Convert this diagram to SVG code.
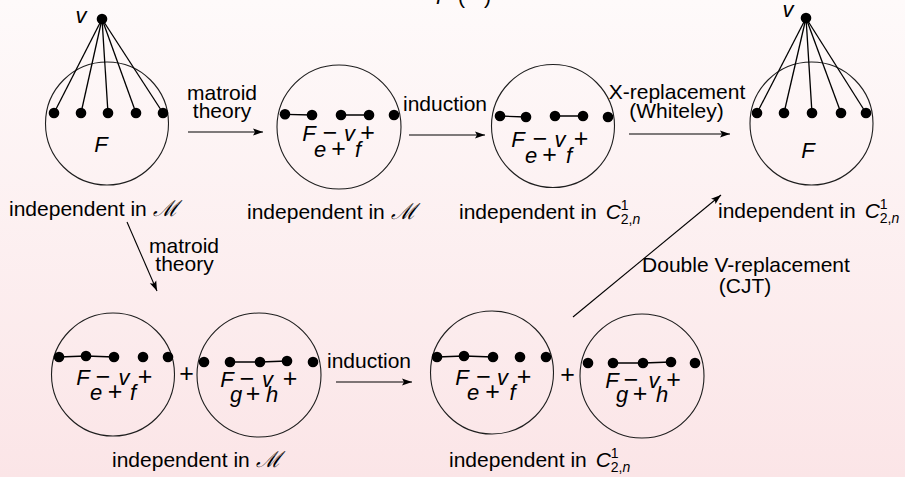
<svg xmlns="http://www.w3.org/2000/svg" width="905" height="477" viewBox="0 0 905 477">
  <defs>
    <linearGradient id="bg" x1="0" y1="0" x2="0" y2="1">
      <stop offset="0" stop-color="#fefafa"/>
      <stop offset="1" stop-color="#fbe5e7"/>
    </linearGradient>
    <marker id="ah" markerUnits="userSpaceOnUse" markerWidth="11" markerHeight="8" refX="10" refY="4" orient="auto">
      <path d="M0,0.5 L10,4 L0,7.5 L2,4 z" fill="#000"/>
    </marker>
    <style>
      .c { fill: none; stroke: #1e1e1e; stroke-width: 1.1; }
      .e { stroke: #000; stroke-width: 1.3; fill: none; }
      .a { stroke: #000; stroke-width: 1.1; fill: none; marker-end: url(#ah); }
      .t { font-family: "Liberation Sans", Arial, sans-serif; font-size: 21px; fill: #000; }
      .ctr { text-anchor: middle; }
      .m { font-family: "Liberation Sans", Arial, sans-serif; font-size: 22px; fill: #000; text-anchor: middle; }
      .i { font-style: italic; }
      .o { font-family: "Liberation Sans", Arial, sans-serif; font-size: 25px; font-style: normal; }
      .s { font-family: "DejaVu Serif", "Liberation Serif", serif; font-style: italic; font-size: 22px; }
      circle.d { fill: #000; }
    </style>
  </defs>

  <rect width="905" height="477" fill="url(#bg)"/>

  <!-- heading, mostly outside the top edge -->
  <text class="t" y="4"><tspan class="i" x="436">F</tspan><tspan x="458">(</tspan><tspan x="484">)</tspan></text>

  <!-- top row, left: F with vertex v -->
  <g id="node-top-1">
    <circle class="c" cx="107" cy="123.5" r="61.5"/>
    <g class="e">
      <line x1="102" y1="19" x2="54" y2="113"/>
      <line x1="102" y1="19" x2="81" y2="113"/>
      <line x1="102" y1="19" x2="108" y2="113"/>
      <line x1="102" y1="19" x2="136" y2="113"/>
      <line x1="102" y1="19" x2="163" y2="113"/>
    </g>
    <circle class="d" cx="102" cy="19" r="5.3"/>
    <circle class="d" cx="54" cy="113" r="5.3"/>
    <circle class="d" cx="81" cy="113" r="5.3"/>
    <circle class="d" cx="108" cy="113" r="5.3"/>
    <circle class="d" cx="136" cy="113" r="5.3"/>
    <circle class="d" cx="163" cy="113" r="5.3"/>
    <text class="m i" x="81" y="23">v</text>
    <text class="m i" x="101" y="152">F</text>
    <text class="t" x="9" y="216">independent in <tspan class="s">ℳ</tspan></text>
  </g>

  <!-- top row, second -->
  <g id="node-top-2">
    <circle class="c" cx="339" cy="127" r="62"/>
    <path class="e" d="M285,114.3 L312,115 M341,115 L369,115"/>
    <circle class="d" cx="285" cy="114.3" r="5.3"/>
    <circle class="d" cx="312" cy="115" r="5.3"/>
    <circle class="d" cx="341" cy="115" r="5.3"/>
    <circle class="d" cx="369" cy="115" r="5.3"/>
    <circle class="d" cx="394" cy="115" r="5.3"/>
    <text class="m" y="141"><tspan class="i" x="309">F</tspan><tspan class="o" x="330">−</tspan><tspan class="i" x="349.5">v</tspan><tspan class="o" x="367.5">+</tspan></text>
    <text class="m" y="157"><tspan class="i" x="320">e</tspan><tspan class="o" x="338.5">+</tspan><tspan class="i" x="358">f</tspan></text>
    <text class="t" x="247" y="219">independent in <tspan class="s">ℳ</tspan></text>
  </g>

  <!-- top row, third -->
  <g id="node-top-3">
    <circle class="c" cx="553" cy="126" r="61.5"/>
    <path class="e" d="M500,116 L526,117 M555,116 L583,116"/>
    <circle class="d" cx="500" cy="116" r="5.3"/>
    <circle class="d" cx="526" cy="117" r="5.3"/>
    <circle class="d" cx="555" cy="116" r="5.3"/>
    <circle class="d" cx="583" cy="116" r="5.3"/>
    <circle class="d" cx="608" cy="117" r="5.3"/>
    <text class="m" y="147"><tspan class="i" x="518">F</tspan><tspan class="o" x="540">−</tspan><tspan class="i" x="560">v</tspan><tspan class="o" x="581">+</tspan></text>
    <text class="m" y="163"><tspan class="i" x="531">e</tspan><tspan class="o" x="549.5">+</tspan><tspan class="i" x="569">f</tspan></text>
    <text class="t" x="459" y="219">independent in <tspan class="i" dx="3">C</tspan><tspan font-size="14" dy="-9">1</tspan><tspan font-size="14" dx="-7.8" dy="14">2,</tspan><tspan class="i" font-size="14">n</tspan></text>
  </g>

  <!-- top row, right: F with vertex v -->
  <g id="node-top-4">
    <circle class="c" cx="811.5" cy="123.5" r="61.5"/>
    <g class="e">
      <line x1="806" y1="18" x2="757" y2="113"/>
      <line x1="806" y1="18" x2="784" y2="113"/>
      <line x1="806" y1="18" x2="812" y2="113"/>
      <line x1="806" y1="18" x2="841" y2="113"/>
      <line x1="806" y1="18" x2="866" y2="113"/>
    </g>
    <circle class="d" cx="806" cy="18" r="5.3"/>
    <circle class="d" cx="757" cy="113" r="5.3"/>
    <circle class="d" cx="784" cy="113" r="5.3"/>
    <circle class="d" cx="812" cy="113" r="5.3"/>
    <circle class="d" cx="841" cy="113" r="5.3"/>
    <circle class="d" cx="866" cy="113" r="5.3"/>
    <text class="m i" x="788" y="17">v</text>
    <text class="m i" x="808" y="158">F</text>
    <text class="t" x="718" y="218">independent in <tspan class="i" dx="3">C</tspan><tspan font-size="14" dy="-9">1</tspan><tspan font-size="14" dx="-7.8" dy="14">2,</tspan><tspan class="i" font-size="14">n</tspan></text>
  </g>

  <!-- bottom row, first pair -->
  <g id="node-bottom-1">
    <circle class="c" cx="113" cy="374.5" r="61.5"/>
    <path class="e" d="M59,357 L86,356 L114,357"/>
    <circle class="d" cx="59" cy="357" r="5.3"/>
    <circle class="d" cx="86" cy="356" r="5.3"/>
    <circle class="d" cx="114" cy="357" r="5.3"/>
    <circle class="d" cx="143" cy="357" r="5.3"/>
    <circle class="d" cx="168" cy="357" r="5.3"/>
    <text class="m" y="385"><tspan class="i" x="83">F</tspan><tspan class="o" x="103">−</tspan><tspan class="i" x="124">v</tspan><tspan class="o" x="145">+</tspan></text>
    <text class="m" y="400"><tspan class="i" x="96">e</tspan><tspan class="o" x="115">+</tspan><tspan class="i" x="133">f</tspan></text>
  </g>
  <text class="o" x="186.5" y="382" text-anchor="middle">+</text>
  <g id="node-bottom-2">
    <circle class="c" cx="259" cy="375" r="62"/>
    <path class="e" d="M230,362 L260,362 L287,361"/>
    <circle class="d" cx="204" cy="362" r="5.3"/>
    <circle class="d" cx="230" cy="362" r="5.3"/>
    <circle class="d" cx="260" cy="362" r="5.3"/>
    <circle class="d" cx="287" cy="361" r="5.3"/>
    <circle class="d" cx="313" cy="362" r="5.3"/>
    <text class="m" y="387"><tspan class="i" x="227">F</tspan><tspan class="o" x="247">−</tspan><tspan class="i" x="267.5">v</tspan><tspan class="o" x="290">+</tspan></text>
    <text class="m" y="402"><tspan class="i" x="236">g</tspan><tspan class="o" x="253">+</tspan><tspan class="i" x="272">h</tspan></text>
  </g>
  <text class="t" x="112" y="467">independent in <tspan class="s">ℳ</tspan></text>

  <!-- bottom row, second pair -->
  <g id="node-bottom-3">
    <circle class="c" cx="492" cy="372.5" r="61.5"/>
    <path class="e" d="M437,357 L464,356 L493,357"/>
    <circle class="d" cx="437" cy="357" r="5.3"/>
    <circle class="d" cx="464" cy="356" r="5.3"/>
    <circle class="d" cx="493" cy="357" r="5.3"/>
    <circle class="d" cx="520" cy="357" r="5.3"/>
    <circle class="d" cx="546" cy="357" r="5.3"/>
    <text class="m" y="385"><tspan class="i" x="462">F</tspan><tspan class="o" x="483.5">−</tspan><tspan class="i" x="502.5">v</tspan><tspan class="o" x="524">+</tspan></text>
    <text class="m" y="400"><tspan class="i" x="473">e</tspan><tspan class="o" x="492.5">+</tspan><tspan class="i" x="512.5">f</tspan></text>
  </g>
  <text class="o" x="567.5" y="383" text-anchor="middle">+</text>
  <g id="node-bottom-4">
    <circle class="c" cx="642" cy="376" r="62"/>
    <path class="e" d="M613,363 L643,363 L671,362"/>
    <circle class="d" cx="588" cy="363" r="5.3"/>
    <circle class="d" cx="613" cy="363" r="5.3"/>
    <circle class="d" cx="643" cy="363" r="5.3"/>
    <circle class="d" cx="671" cy="362" r="5.3"/>
    <circle class="d" cx="695" cy="363" r="5.3"/>
    <text class="m" y="388"><tspan class="i" x="612">F</tspan><tspan class="o" x="631">−</tspan><tspan class="i" x="654">v</tspan><tspan class="o" x="673.5">+</tspan></text>
    <text class="m" y="402"><tspan class="i" x="622">g</tspan><tspan class="o" x="640">+</tspan><tspan class="i" x="662">h</tspan></text>
  </g>
  <text class="t" x="449" y="467">independent in <tspan class="i" dx="3">C</tspan><tspan font-size="14" dy="-9">1</tspan><tspan font-size="14" dx="-7.8" dy="14">2,</tspan><tspan class="i" font-size="14">n</tspan></text>

  <!-- arrows between the stages -->
  <g id="connectors">
    <line class="a" x1="188" y1="132" x2="263" y2="132"/>
    <line class="a" x1="409" y1="135" x2="485" y2="135"/>
    <line class="a" x1="629" y1="134" x2="730" y2="134"/>
    <line class="a" x1="127" y1="222" x2="157" y2="291"/>
    <line class="a" x1="336" y1="382" x2="412" y2="382"/>
    <line class="a" x1="573" y1="317" x2="721" y2="195" stroke-width="0.9"/>
  </g>

  <!-- arrow labels -->
  <g id="labels">
    <text class="t ctr" x="222" y="100">matroid</text>
    <text class="t ctr" x="222" y="118">theory</text>
    <text class="t ctr" x="445" y="111">induction</text>
    <text class="t ctr" x="677" y="99">X-replacement</text>
    <text class="t ctr" x="676.5" y="118">(Whiteley)</text>
    <text class="t ctr" x="184" y="253">matroid</text>
    <text class="t ctr" x="184.5" y="271">theory</text>
    <text class="t ctr" x="369" y="368">induction</text>
    <text class="t ctr" x="746" y="272">Double V-replacement</text>
    <text class="t ctr" x="745" y="293">(CJT)</text>
  </g>
</svg>
